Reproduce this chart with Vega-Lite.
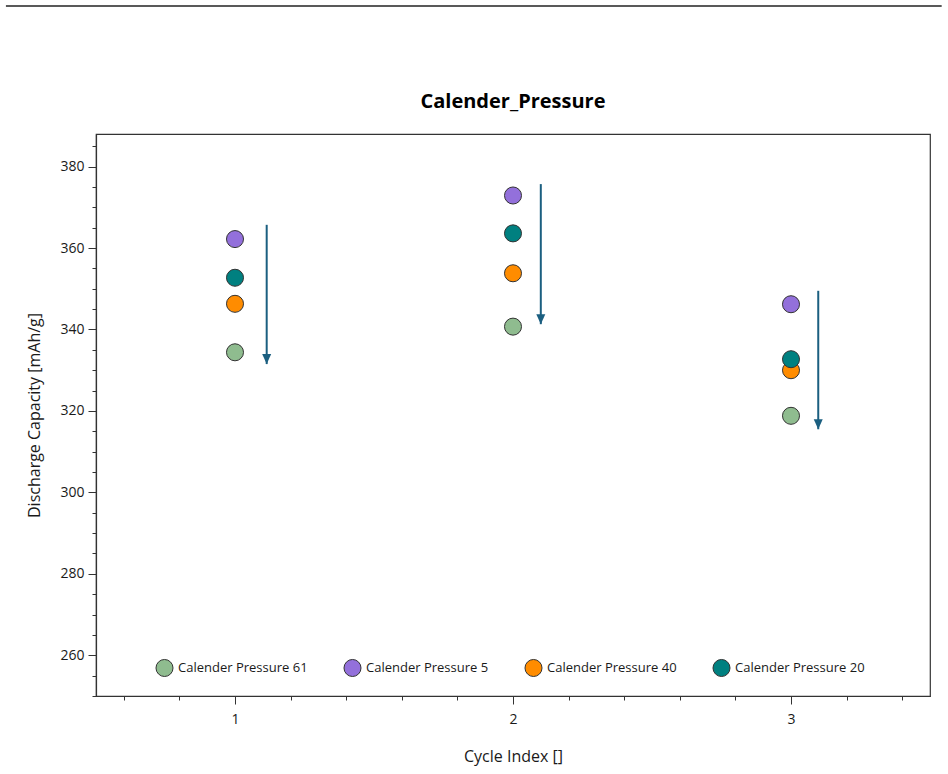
{
  "$schema": "https://vega.github.io/schema/vega-lite/v6.json",
  "autosize": {"type": "none"},
  "width": 834,
  "height": 562,
  "padding": {"left": 96, "top": 134, "right": 18, "bottom": 78},
  "background": "#ffffff",
  "title": {
    "text": "Calender_Pressure",
    "font": "Open Sans",
    "fontSize": 20,
    "fontWeight": "bold",
    "color": "#000000",
    "anchor": "middle",
    "offset": -107
  },
  "config": {
    "view": {"stroke": "#333333", "strokeWidth": 1.2},
    "axis": {
      "grid": false,
      "domainColor": "#333333",
      "domainWidth": 1.2,
      "tickColor": "#333333",
      "labelFont": "Open Sans",
      "labelFontSize": 13.5,
      "labelColor": "#1a1a1a",
      "titleFont": "Open Sans",
      "titleFontSize": 16,
      "titleFontWeight": "normal",
      "titleColor": "#1a1a1a"
    }
  },
  "datasets": {
    "capacity": [
      {"cycle": 1, "series": "Calender Pressure 61", "capacity": 334.4},
      {"cycle": 2, "series": "Calender Pressure 61", "capacity": 340.7},
      {"cycle": 3, "series": "Calender Pressure 61", "capacity": 318.8},
      {"cycle": 1, "series": "Calender Pressure 5", "capacity": 362.2},
      {"cycle": 2, "series": "Calender Pressure 5", "capacity": 372.9},
      {"cycle": 3, "series": "Calender Pressure 5", "capacity": 346.2},
      {"cycle": 1, "series": "Calender Pressure 40", "capacity": 346.3},
      {"cycle": 2, "series": "Calender Pressure 40", "capacity": 353.8},
      {"cycle": 3, "series": "Calender Pressure 40", "capacity": 330.0},
      {"cycle": 1, "series": "Calender Pressure 20", "capacity": 352.7},
      {"cycle": 2, "series": "Calender Pressure 20", "capacity": 363.6},
      {"cycle": 3, "series": "Calender Pressure 20", "capacity": 332.7}
    ],
    "trend": [
      {"x": 1.114, "yStart": 365.7, "yEnd": 331.5},
      {"x": 2.1, "yStart": 375.7, "yEnd": 341.3},
      {"x": 3.098, "yStart": 349.5, "yEnd": 315.5}
    ]
  },
  "resolve": {"axis": {"x": "independent", "y": "independent"}},
  "layer": [
    {
      "data": {"values": [{}]},
      "mark": {"type": "rule", "clip": false, "color": "#222222", "strokeWidth": 1.5},
      "encoding": {
        "x": {"datum": 0.176, "type": "quantitative", "scale": {"domain": [0.5, 3.5], "nice": false, "zero": false}, "axis": null},
        "x2": {"datum": 3.542},
        "y": {"datum": 419.4, "type": "quantitative", "scale": {"domain": [250, 388], "nice": false, "zero": false}, "axis": null}
      }
    },
    {
      "data": {"name": "trend"},
      "mark": {"type": "rule", "color": "#1b5f80", "strokeWidth": 2},
      "encoding": {
        "x": {
          "field": "x", "type": "quantitative",
          "axis": {"orient": "bottom", "values": [0.6, 0.8, 1.2, 1.4, 1.6, 1.8, 2.2, 2.4, 2.6, 2.8, 3.2, 3.4], "tickSize": 4, "labels": false, "domain": false, "title": null}
        },
        "y": {
          "field": "yStart", "type": "quantitative",
          "axis": {"orient": "left", "values": [250, 255, 265, 270, 275, 285, 290, 295, 305, 310, 315, 325, 330, 335, 345, 350, 355, 365, 370, 375, 385], "tickSize": 4, "labels": false, "domain": false, "title": null}
        },
        "y2": {"field": "yEnd"}
      }
    },
    {
      "data": {"name": "trend"},
      "mark": {"type": "point", "shape": "M-0.45,-1L0.45,-1L0,0Z", "filled": true, "color": "#1b5f80", "size": 400, "opacity": 1},
      "encoding": {
        "x": {"field": "x", "type": "quantitative", "axis": null},
        "y": {"field": "yEnd", "type": "quantitative", "axis": null}
      }
    },
    {
      "data": {"name": "capacity"},
      "mark": {"type": "point", "filled": true, "size": 290, "stroke": "#333333", "strokeWidth": 1, "opacity": 1},
      "encoding": {
        "x": {
          "field": "cycle", "type": "quantitative",
          "axis": {"orient": "bottom", "values": [1, 2, 3], "tickSize": 8, "labelPadding": 8, "labelFontSize": 14, "title": "Cycle Index []", "titlePadding": 22}
        },
        "y": {
          "field": "capacity", "type": "quantitative",
          "axis": {"orient": "left", "values": [260, 280, 300, 320, 340, 360, 380], "tickSize": 8, "labelPadding": 4, "labelFontSize": 14, "title": "Discharge Capacity [mAh/g]", "titlePadding": 17}
        },
        "color": {
          "field": "series", "type": "nominal",
          "scale": {
            "domain": ["Calender Pressure 61", "Calender Pressure 5", "Calender Pressure 40", "Calender Pressure 20"],
            "range": ["#8fbc8f", "#9370db", "#ff8c00", "#008080"]
          },
          "legend": {
            "title": null,
            "orient": "none",
            "legendX": 59,
            "legendY": 524,
            "direction": "horizontal",
            "columns": 4,
            "columnPadding": 33,
            "symbolType": "circle",
            "symbolSize": 290,
            "symbolStrokeColor": "#333333",
            "symbolStrokeWidth": 1,
            "symbolOpacity": 1,
            "labelFont": "Open Sans",
            "labelFontSize": 13,
            "labelColor": "#1a1a1a",
            "labelOffset": 4
          }
        }
      }
    }
  ]
}
